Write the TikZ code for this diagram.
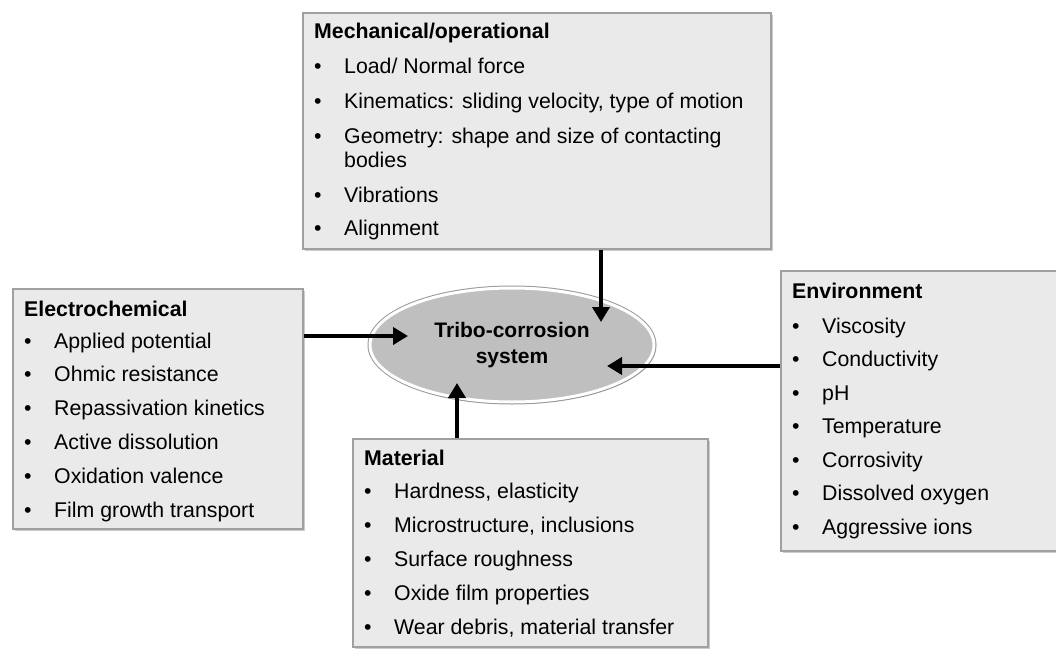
\documentclass[tikz,border=0pt]{standalone}
\usepackage{fontspec}
\setmainfont{Liberation Sans}
\usetikzlibrary{arrows.meta,shapes.geometric,shadows}
\definecolor{boxfill}{RGB}{234,234,234}
\definecolor{boxline}{RGB}{160,160,160}
\definecolor{ellfill}{RGB}{191,191,191}
\newcommand\itembul{\makebox[30pt][l]{•}}
\begin{document}
\begin{tikzpicture}[x=1pt,y=-1pt,
  panel/.style={draw=boxline, line width=1.6pt, fill=boxfill, inner sep=0pt, anchor=north west,
    drop shadow={opacity=0.4, shadow xshift=2pt, shadow yshift=-2pt}},
  txt/.style={anchor=base west, inner sep=0pt, font=\fontsize{21.3}{24}\selectfont},
  ttl/.style={txt, font=\fontsize{21.3}{24}\selectfont\bfseries},
  conn/.style={line width=4pt, -{Triangle[length=15pt,width=17pt]}},
  core/.style={ellipse, minimum width=284, minimum height=114, inner sep=0pt,
    fill=ellfill, draw=white, line width=3pt,
    preaction={draw=gray!80, line width=5pt},
    drop shadow={opacity=0.3, shadow xshift=2pt, shadow yshift=-2pt},
    align=center, font=\fontsize{21}{26}\selectfont\bfseries},
]
\useasboundingbox (0,0) rectangle (1056,650);
\clip (0,0) rectangle (1056,650);

% panels
\node[panel, minimum width=468, minimum height=236] (mech) at (302,12) {};
\node[panel, minimum width=290, minimum height=240] (elec) at (12,288) {};
\node[panel, minimum width=282, minimum height=280] (env) at (780,270) {};
\node[panel, minimum width=355, minimum height=208] (mat) at (352,438) {};

% centre
\node[core] (sys) at (512,345) {Tribo-corrosion\\system};

% Mechanical
\node[ttl] (mechT) at (314,39) {Mechanical/operational};
\node[txt] (mech1) at (314,74) {\itembul Load/ Normal force};
\node[txt] (mech2) at (314,109) {\itembul Kinematics: sliding velocity, type of motion};
\node[txt] (mech3) at (314,143) {\itembul Geometry: shape and size of contacting};
\node[txt] (mech3b) at (344,167) {bodies};
\node[txt] (mech4) at (314,202) {\itembul Vibrations};
\node[txt] (mech5) at (314,235) {\itembul Alignment};

% Electrochemical
\node[ttl] (elecT) at (24,316) {Electrochemical};
\foreach \t [count=\i] in {Applied potential, Ohmic resistance, Repassivation kinetics,
  Active dissolution, Oxidation valence, Film growth transport}
  \node[txt] (elec\i) at (24,{348+(\i-1)*33.8}) {\itembul\t};

% Environment
\node[ttl] (envT) at (792,298) {Environment};
\foreach \t [count=\i] in {Viscosity, Conductivity, pH, Temperature, Corrosivity,
  Dissolved oxygen, Aggressive ions}
  \node[txt] (env\i) at (792,{333+(\i-1)*33.5}) {\itembul\t};

% Material
\node[ttl] (matT) at (364,465) {Material};
\foreach \t [count=\i] in {{Hardness, elasticity}, {Microstructure, inclusions},
  Surface roughness, Oxide film properties, {Wear debris, material transfer}}
  \node[txt] (mat\i) at (364,{498+(\i-1)*34}) {\itembul\t};

% connectors
\coordinate (tipM) at (601,322);
\coordinate (tipE) at (408,336);
\coordinate (tipV) at (607,366);
\coordinate (tipA) at (457,383);
\draw[conn] (mech.south -| tipM) -- (tipM);
\draw[conn] (elec.east |- tipE) -- (tipE);
\draw[conn] (env.west |- tipV) -- (tipV);
\draw[conn] (mat.north -| tipA) -- (tipA);
\end{tikzpicture}
\end{document}
